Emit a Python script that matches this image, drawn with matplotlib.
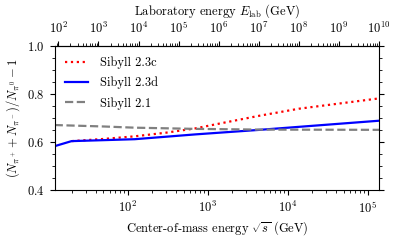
import numpy as np
import matplotlib
matplotlib.use("Agg")
from matplotlib import pyplot as plt
from matplotlib.ticker import LogLocator, NullFormatter, MultipleLocator, FixedLocator

plt.rcParams['font.family'] = 'serif'
plt.rcParams['font.serif'] = ['cmr10']
plt.rcParams['mathtext.fontset'] = 'cm'
plt.rcParams['axes.formatter.use_mathtext'] = True

# sqrt(s) in GeV and pion ratio
sqrts_23c = [20, 50, 123, 300, 700, 1500, 4470, 13800, 138000]
ratio_23c = [0.605, 0.614, 0.625, 0.640, 0.658, 0.680, 0.711, 0.740, 0.783]

sqrts_23d = [12.3, 20, 50, 123, 700, 4470, 138000]
ratio_23d = [0.584, 0.605, 0.609, 0.613, 0.633, 0.652, 0.690]

sqrts_21 = [12.3, 50, 123, 700, 4470, 138000]
ratio_21 = [0.672, 0.666, 0.661, 0.656, 0.653, 0.652]

labels = ['Sibyll 2.3c', 'Sibyll 2.3d', 'Sibyll 2.1']
lab_ticks = [10.0 ** k for k in range(2, 11)]

m_p = 0.938


def to_lab(x):
    x = np.asarray(x, dtype=float)
    return x ** 2 / (2 * m_p)


def to_cm(e):
    e = np.asarray(e, dtype=float)
    return np.sqrt(np.clip(e, 1e-12, None) * 2 * m_p)


fig = plt.figure(figsize=(3.99, 2.4), dpi=100)
ax = fig.add_axes([0.137, 0.207, 0.813, 0.600])

ax.plot(sqrts_23c, ratio_23c, color='red', ls=':', lw=1.6, label=labels[0])
ax.plot(sqrts_23d, ratio_23d, color='blue', ls='-', lw=1.6, label=labels[1])
ax.plot(sqrts_21, ratio_21, color='gray', ls='--', lw=1.6, label=labels[2])

ax.set_xscale('log')
ax.set_xlim(12.3, 138000)
ax.set_ylim(0.4, 1.0)
ax.yaxis.set_major_locator(MultipleLocator(0.2))
ax.yaxis.set_minor_locator(MultipleLocator(0.05))
ax.xaxis.set_minor_locator(LogLocator(base=10, subs=np.arange(2, 10), numticks=20))
ax.xaxis.set_minor_formatter(NullFormatter())

ax.tick_params(which='both', direction='out', right=True, labelsize=9)
ax.tick_params(which='major', length=3.6, width=0.8)
ax.tick_params(which='minor', length=2.4, width=0.6)

ax.set_xlabel(r'Center-of-mass energy $\sqrt{s}$ (GeV)', fontsize=9, labelpad=2)
ax.set_ylabel(r'$(N_{\pi^+}+N_{\pi^-})/N_{\pi^0}-1$', fontsize=9, labelpad=4)

top = ax.secondary_xaxis('top', functions=(to_lab, to_cm))
top.set_xscale('log')
top.xaxis.set_major_locator(FixedLocator(lab_ticks))
top.xaxis.set_minor_locator(LogLocator(base=10, subs=np.arange(2, 10), numticks=30))
top.xaxis.set_minor_formatter(NullFormatter())
top.tick_params(which='both', direction='out', labelsize=9)
top.tick_params(which='major', length=3.6, width=0.8)
top.tick_params(which='minor', length=2.4, width=0.6)
top.set_xlabel(r'Laboratory energy $E_{\rm lab}$ (GeV)', fontsize=9, labelpad=4)

ax.legend(loc='upper left', frameon=False, fontsize=9, handlelength=1.9,
          handletextpad=0.9, borderaxespad=0.4, labelspacing=0.62)

fig.savefig('out.png', dpi=100)
